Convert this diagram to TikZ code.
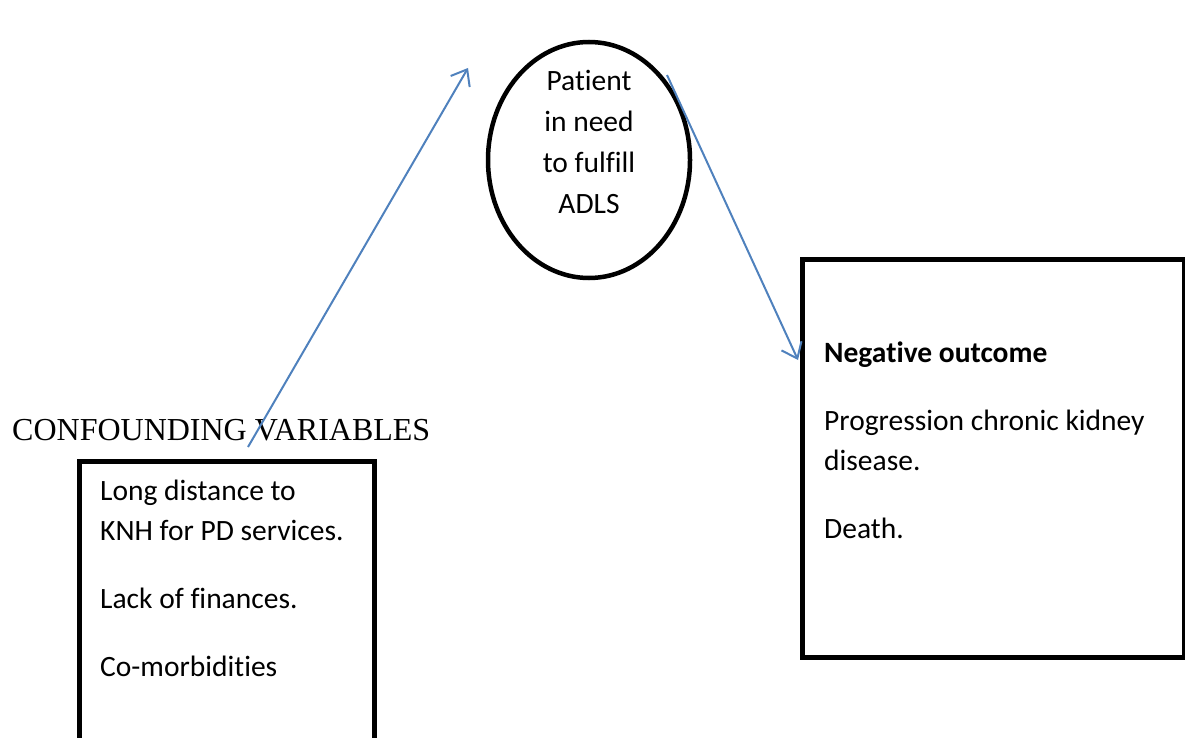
\documentclass[tikz,border=0pt]{standalone}
\usepackage{fontspec}
\setmainfont[Ligatures=NoCommon]{Carlito}
\newfontfamily\titlefont{Liberation Serif}
\usetikzlibrary{arrows.meta, positioning, shapes.geometric}
\definecolor{myblue}{HTML}{4F81BD}
\tikzset{
  frame/.style={draw, line width=4.5pt, rectangle, anchor=north west, inner sep=0pt},
  boxtext/.style={anchor=north west, inner sep=0pt, align=left, font=\fontsize{29.5}{40}\selectfont},
  link/.style={myblue, line width=2pt, -{Straight Barb[length=14pt, width=22pt, line width=2pt]}}
}

\begin{document}
\begin{tikzpicture}[x=1pt, y=-1pt]
		\useasboundingbox (0,0) rectangle (1185,738);
		% patient
		\node [draw, ellipse, line width=4.5pt, minimum width=202pt, minimum height=236pt, inner sep=0pt] (need) at (589,160) {};
		\node [align=center, inner sep=0pt, anchor=north, font=\fontsize{29.5}{41}\selectfont] (needtext) at (589,70) {Patient\\in need\\to fulfill\\ADLS};
		% confounding variables
		\node [anchor=base west, inner sep=0pt, font=\titlefont\fontsize{32}{36}\selectfont] (conftitle) at (12,440) {CONFOUNDING VARIABLES};
		\node [frame, minimum width=295pt, minimum height=300pt] (confbox) at (77,459) {};
		\node [boxtext] (conftext) at (100,480) {Long distance to\\KNH for PD services.\\[28pt]Lack of finances.\\[28pt]Co-morbidities};
		% outcome
		\node [frame, minimum width=382pt, minimum height=398pt] (outbox) at (800,257) {};
		\node [boxtext] (outtext) at (824,342) {\textbf{Negative outcome}\\[28pt]Progression chronic kidney\\disease.\\[28pt]Death.};
		% arrows
		\coordinate (a1s) at (248,447);
		\coordinate (a1e) at (468,68);
		\coordinate (a2s) at (667,75);
		\coordinate (a2e) at (798,360);
		\draw [link] (a1s) -- (a1e);
		\draw [link] (a2s) -- (a2e);
	\end{tikzpicture}
\end{document}
